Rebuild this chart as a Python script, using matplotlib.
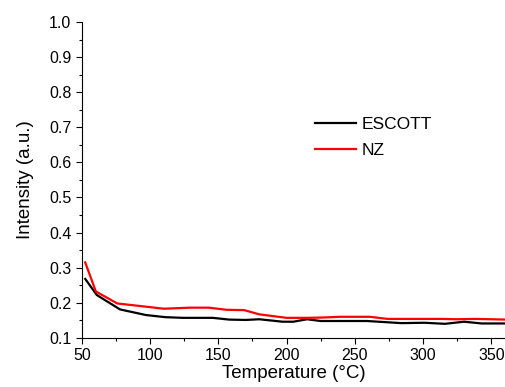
import matplotlib
matplotlib.use("Agg")
import matplotlib.pyplot as plt
from matplotlib.ticker import MultipleLocator

plt.rcParams['font.family'] = ['Liberation Sans', 'DejaVu Sans']

# data
temp_escott = [52.5, 61, 78, 97, 111, 124, 146, 158, 170, 180, 197, 205, 215, 225,
               259, 284, 301, 316, 330, 343, 361]
int_escott = [0.268, 0.222, 0.181, 0.165, 0.159, 0.157, 0.157, 0.152, 0.151, 0.153,
              0.146, 0.146, 0.153, 0.148, 0.148, 0.142, 0.143, 0.140, 0.146, 0.141, 0.141]

temp_nz = [52.5, 60.3, 76, 99, 110, 129, 143, 156, 169, 180, 200, 215, 227, 239,
           261, 274, 313, 325, 338, 361]
int_nz = [0.315, 0.232, 0.198, 0.188, 0.183, 0.186, 0.186, 0.180, 0.179, 0.167,
          0.157, 0.157, 0.158, 0.160, 0.160, 0.154, 0.154, 0.153, 0.154, 0.152]

fig = plt.figure(figsize=(5.05, 3.87), dpi=100)
ax = fig.add_axes([0.162, 0.127, 0.838, 0.816])

ax.plot(temp_escott, int_escott, color='black', lw=1.6, label='ESCOTT')
ax.plot(temp_nz, int_nz, color='red', lw=1.6, label='NZ')

ax.set_xlim(50, 360)
ax.set_ylim(0.1, 1.0)
ax.xaxis.set_major_locator(MultipleLocator(50))
ax.xaxis.set_minor_locator(MultipleLocator(25))
ax.yaxis.set_major_locator(MultipleLocator(0.1))
ax.yaxis.set_minor_locator(MultipleLocator(0.05))
ax.yaxis.set_major_formatter(plt.FormatStrFormatter('%.1f'))

ax.spines['top'].set_visible(False)
ax.spines['right'].set_visible(False)
ax.tick_params(which='both', direction='out', labelsize=11.5, width=0.8)
ax.tick_params(which='major', length=4)
ax.tick_params(which='minor', length=2.5)

ax.set_xlabel('Temperature (°C)', fontsize=13.5, labelpad=1)
ax.set_ylabel('Intensity (a.u.)', fontsize=13.5, labelpad=11)

ax.legend(loc='upper left', bbox_to_anchor=(0.513, 0.75), frameon=False,
          fontsize=12.5, handlelength=2.4, handletextpad=0.3, labelspacing=0.65)

fig.savefig('out.png', dpi=100)
